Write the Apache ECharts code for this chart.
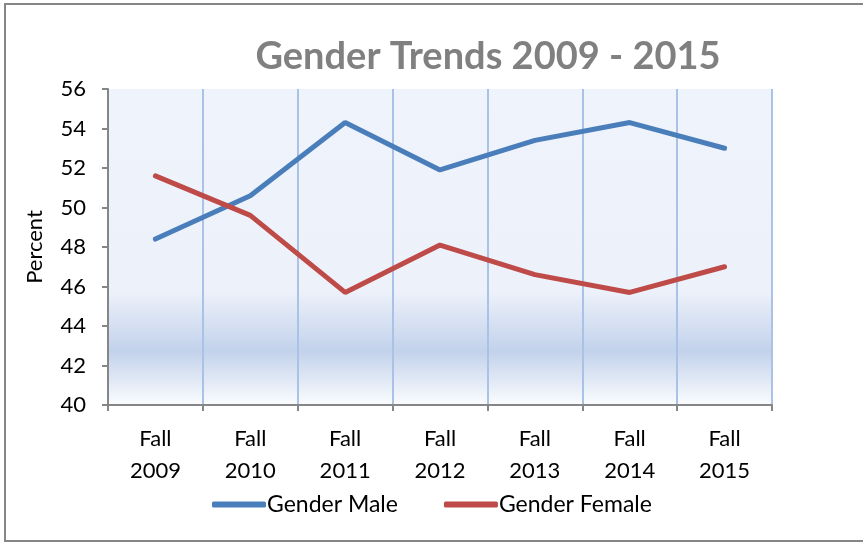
<!DOCTYPE html>
<html>
<head>
<meta charset="utf-8">
<script src="https://cdn.jsdelivr.net/npm/echarts@6/dist/echarts.min.js"></script>
<style>
html,body{margin:0;padding:0;background:#fff;}
#chart{width:863px;height:543px;}
</style>
</head>
<body>
<div id="chart"></div>
<script>
// data
var years = ['Fall\n2009','Fall\n2010','Fall\n2011','Fall\n2012','Fall\n2013','Fall\n2014','Fall\n2015'];
var male = [48.4, 50.6, 54.3, 51.9, 53.4, 54.3, 53.0];
var female = [51.6, 49.6, 45.7, 48.1, 46.6, 45.7, 47.0];
var seriesNames = ['Gender Male', 'Gender Female'];

var chart = echarts.init(document.getElementById('chart'));
var font = 'Lato, "Open Sans", sans-serif';

chart.setOption({
	animation: false,
	title: {
		text: 'Gender Trends 2009 - 2015',
		left: 483,
		textAlign: 'center',
		top: 33,
		textStyle: {fontFamily: font, fontSize: 38, fontWeight: 'bold', color: '#808080'}
	},
	graphic: [{
		type: 'rect',
		shape: {x: 5, y: 4, width: 870, height: 537},
		style: {fill: 'none', stroke: '#868686', lineWidth: 2},
		silent: true
	}],
	legend: {
		bottom: 27,
		left: 212,
		padding: 0,
		itemWidth: 54,
		itemHeight: 6,
		itemGap: 46,
		icon: 'roundRect',
		textStyle: {fontFamily: font, fontSize: 23, color: '#000', padding: [0, 0, 0, -4]},
		data: seriesNames
	},
	grid: {
		left: 108, right: 91, top: 89, bottom: 138,
		show: true,
		borderWidth: 0,
		backgroundColor: {
			type: 'linear', x: 0, y: 0, x2: 0, y2: 1,
			colorStops: [
				{offset: 0, color: '#eff3fb'},
				{offset: 0.64, color: '#edf1fa'},
				{offset: 0.83, color: '#c2d2eb'},
				{offset: 1, color: '#fbfcfe'}
			]
		}
	},
	xAxis: {
		type: 'category',
		data: years,
		boundaryGap: true,
		axisLine: {lineStyle: {color: '#868686', width: 2}},
		axisTick: {show: true, length: 6, lineStyle: {color: '#868686', width: 2}},
		axisLabel: {fontFamily: font, fontSize: 22, color: '#000', lineHeight: 32, margin: 18},
		splitLine: {show: true, lineStyle: {color: '#aac1e8', width: 2}}
	},
	yAxis: {
		type: 'value',
		min: 40, max: 56, interval: 2,
		name: 'Percent',
		nameLocation: 'middle',
		nameRotate: 90,
		nameGap: 62,
		nameTextStyle: {fontFamily: font, fontSize: 22, color: '#000'},
		axisLine: {show: true, lineStyle: {color: '#868686', width: 2}},
		axisTick: {show: true, inside: false, length: 6, lineStyle: {color: '#868686', width: 2}},
		axisLabel: {fontFamily: font, fontSize: 22, color: '#000', margin: 22},
		splitLine: {show: false}
	},
	series: [{
		name: seriesNames[0],
		type: 'line',
		data: male,
		symbol: 'none',
		color: '#4a7ebb',
		lineStyle: {width: 5, color: '#4a7ebb', cap: 'round'}
	}, {
		name: seriesNames[1],
		type: 'line',
		data: female,
		symbol: 'none',
		color: '#be4b48',
		lineStyle: {width: 5, color: '#be4b48', cap: 'round'}
	}]
});
</script>
</body>
</html>
